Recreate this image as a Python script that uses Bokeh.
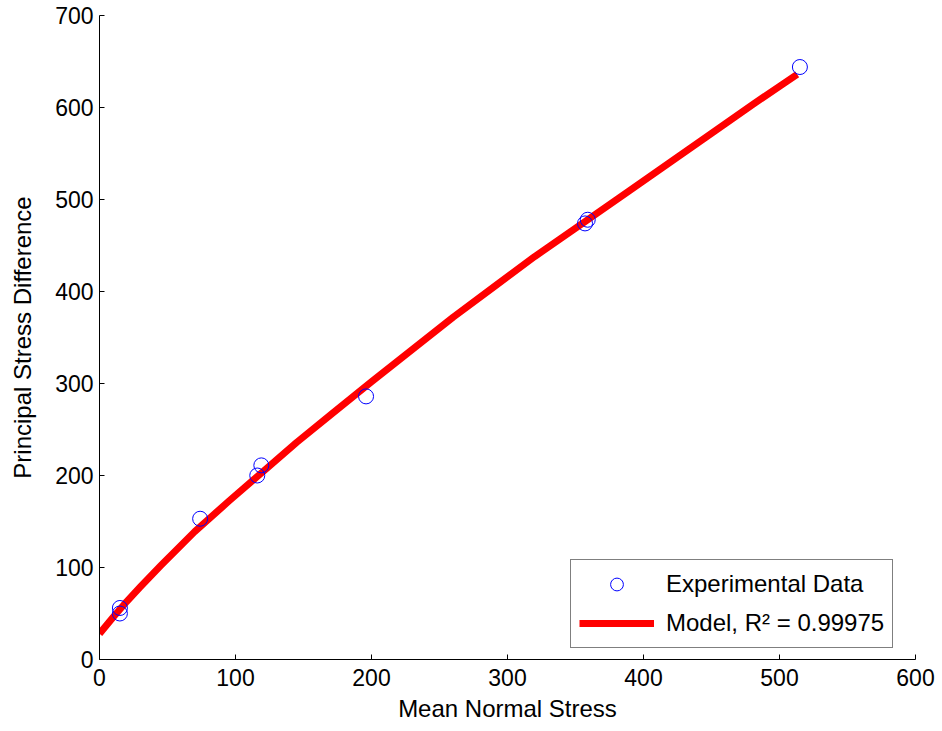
from bokeh.plotting import figure
from bokeh.models import Legend, LegendItem, FixedTicker
from bokeh.embed import file_html
from bokeh.resources import INLINE

# Experimental data
exp_x = [15, 15, 74, 116, 119, 196, 357, 359, 515]
exp_y = [50, 56, 153, 200, 211, 286, 474, 478, 644]

# Model curve
model_x = [0, 10, 20, 30, 45, 70, 95, 120, 145, 170, 200, 230, 260, 290, 320,
           357, 390, 420, 450, 481, 500, 513]
model_y = [28, 46, 63, 79, 102, 139, 172, 204, 236, 266, 302, 337, 372, 405, 438,
           476, 510, 541, 572, 604, 623, 636]

x_ticks = [0, 100, 200, 300, 400, 500, 600]
y_ticks = [0, 100, 200, 300, 400, 500, 600, 700]

FONT = "Liberation Sans"

p = figure(width=942, height=731, output_backend="svg", toolbar_location=None,
           x_range=(0, 600), y_range=(0, 700),
           min_border_left=99, min_border_right=27, min_border_top=15, min_border_bottom=72)
p.outline_line_color = None
p.xgrid.visible = False
p.ygrid.visible = False
p.background_fill_color = "white"
p.border_fill_color = "white"

for ax in (p.xaxis[0], p.yaxis[0]):
    ax.major_tick_in = 5
    ax.major_tick_out = 0
    ax.minor_tick_in = 0
    ax.minor_tick_out = 0
    ax.axis_line_color = "black"
    ax.major_tick_line_color = "black"
    ax.major_label_text_font = FONT
    ax.major_label_text_font_size = "23px"
    ax.major_label_text_color = "black"
    ax.axis_label_text_font = FONT
    ax.axis_label_text_font_size = "24px"
    ax.axis_label_text_font_style = "normal"
    ax.axis_label_text_color = "black"

p.xaxis[0].ticker = FixedTicker(ticks=x_ticks)
p.yaxis[0].ticker = FixedTicker(ticks=y_ticks)
p.xaxis[0].axis_label = "Mean Normal Stress"
p.yaxis[0].axis_label = "Principal Stress Difference"
p.xaxis[0].major_label_standoff = 9
p.yaxis[0].major_label_standoff = 6
p.xaxis[0].axis_label_standoff = 6
p.yaxis[0].axis_label_standoff = 16

line_r = p.line(model_x, model_y, line_color="#ff0000", line_width=7, line_join="round")
pts_r = p.scatter(exp_x, exp_y, marker="circle", size=15, fill_color=None,
                  line_color="#0000ff", line_width=1)

legend = Legend(items=[LegendItem(label="Experimental Data", renderers=[pts_r]),
                       LegendItem(label="Model, R² = 0.99975", renderers=[line_r])],
                location=(471, 11))
legend.border_line_color = "black"
legend.border_line_width = 1
legend.background_fill_color = "white"
legend.background_fill_alpha = 1
legend.label_text_font = FONT
legend.label_text_font_size = "24px"
legend.label_text_color = "black"
legend.glyph_width = 75
legend.glyph_height = 32
legend.label_height = 32
legend.padding = 8
legend.spacing = 7
legend.margin = 0
legend.label_standoff = 12
p.add_layout(legend, "center")

open("out.html", "w").write(file_html(p, INLINE))
